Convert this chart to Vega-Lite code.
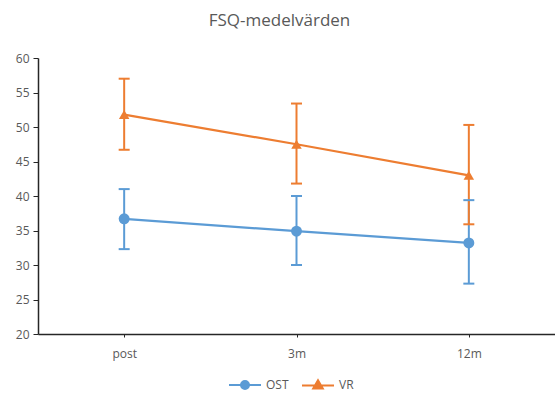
{
  "$schema": "https://vega.github.io/schema/vega-lite/v6.json",
  "width": 517,
  "height": 276,
  "autosize": {"type": "none"},
  "padding": {"left": 38, "top": 58, "right": 0, "bottom": 64},
  "background": "white",
  "title": {
    "text": "FSQ-medelvärden",
    "font": "Open Sans",
    "fontSize": 17,
    "fontWeight": "normal",
    "color": "#595959",
    "anchor": "middle",
    "offset": 22,
    "dx": -17,
    "frame": "group"
  },
  "config": {
    "view": {"stroke": null},
    "axis": {
      "labelFont": "Open Sans",
      "labelFontSize": 12,
      "labelColor": "#595959",
      "domainColor": "#262626",
      "tickColor": "#262626",
      "grid": false,
      "title": null,
      "labelOverlap": false
    },
    "axisY": {"tickSize": 5, "labelPadding": 4, "domainWidth": 1.5, "values": [20, 25, 30, 35, 40, 45, 50, 55, 60]}
  },
  "data": {
    "values": [
      {"tid": "post", "series": "OST", "mean": 36.7, "low": 32.3, "high": 41.0},
      {"tid": "3m", "series": "OST", "mean": 34.9, "low": 30.0, "high": 40.0},
      {"tid": "12m", "series": "OST", "mean": 33.2, "low": 27.3, "high": 39.4},
      {"tid": "post", "series": "VR", "mean": 51.8, "low": 46.7, "high": 57.0},
      {"tid": "3m", "series": "VR", "mean": 47.5, "low": 41.8, "high": 53.4},
      {"tid": "12m", "series": "VR", "mean": 43.0, "low": 35.9, "high": 50.3}
    ]
  },
  "encoding": {
    "x": {
      "field": "tid",
      "type": "nominal",
      "sort": ["post", "3m", "12m"],
      "scale": {"type": "point", "padding": 0.5},
      "axis": {"labelAngle": 0, "tickSize": 3, "labelPadding": 11, "domainWidth": 1.5}
    },
    "color": {
      "field": "series",
      "type": "nominal",
      "scale": {"domain": ["OST", "VR"], "range": ["#5B9BD5", "#ED7D31"]},
      "legend": {
        "title": null,
        "orient": "none",
        "legendX": 201,
        "legendY": 321,
        "direction": "horizontal",
        "labelFont": "Open Sans",
        "labelFontSize": 12,
        "labelColor": "#595959",
        "symbolSize": 16,
        "symbolStrokeWidth": 2,
        "labelOffset": 15,
        "columnPadding": 9,
        "encode": {
          "symbols": {
            "update": {
              "shape": {"signal": "datum.value === 'OST' ? 'M-8,0H8M-2,0A2,2 0 1,0 2,0A2,2 0 1,0 -2,0Z' : 'M-8,0H8M0,-2.6L2.4,1.6L-2.4,1.6Z'"},
              "fill": {"scale": "color", "field": "value"},
              "stroke": {"scale": "color", "field": "value"},
              "strokeWidth": {"value": 2},
              "fillOpacity": {"value": 1},
              "opacity": {"value": 1}
            }
          }
        }
      }
    }
  },
  "layer": [
    {
      "mark": {"type": "rule", "strokeWidth": 2},
      "encoding": {
        "y": {"field": "low", "type": "quantitative", "scale": {"domain": [20, 60], "nice": false, "zero": false}},
        "y2": {"field": "high"}
      }
    },
    {
      "mark": {"type": "tick", "thickness": 2, "size": 11, "orient": "horizontal", "opacity": 1},
      "encoding": {
        "y": {"field": "low", "type": "quantitative"}
      }
    },
    {
      "mark": {"type": "tick", "thickness": 2, "size": 11, "orient": "horizontal", "opacity": 1},
      "encoding": {
        "y": {"field": "high", "type": "quantitative"}
      }
    },
    {
      "mark": {"type": "line", "strokeWidth": 2.25},
      "encoding": {
        "y": {"field": "mean", "type": "quantitative"}
      }
    },
    {
      "transform": [{"filter": "datum.series === 'OST'"}],
      "mark": {"type": "point", "filled": true, "opacity": 1, "shape": "circle", "size": 120},
      "encoding": {
        "y": {"field": "mean", "type": "quantitative"},
        "color": {
          "field": "series",
          "type": "nominal",
          "scale": {"domain": ["OST", "VR"], "range": ["#5B9BD5", "#ED7D31"]},
          "legend": null
        }
      }
    },
    {
      "transform": [{"filter": "datum.series === 'VR'"}],
      "mark": {"type": "point", "filled": true, "opacity": 1, "shape": "triangle-up", "size": 110},
      "encoding": {
        "y": {"field": "mean", "type": "quantitative"},
        "color": {
          "field": "series",
          "type": "nominal",
          "scale": {"domain": ["OST", "VR"], "range": ["#5B9BD5", "#ED7D31"]},
          "legend": null
        }
      }
    }
  ]
}
